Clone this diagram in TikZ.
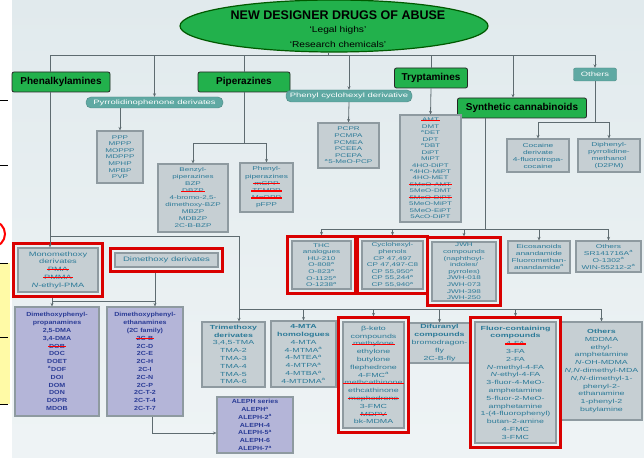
\documentclass[tikz,border=0pt]{standalone}
\usepackage{fontspec}
\setmainfont{Liberation Sans}
\newfontfamily\widefont{Liberation Sans}[FakeStretch=1.5]
\newfontfamily\semifont{Liberation Sans}[FakeStretch=1.2]
\usetikzlibrary{arrows.meta,fit,shapes.geometric}

\definecolor{grpgreen}{HTML}{22B14C}
\definecolor{pillteal}{HTML}{5FA9A3}
\definecolor{boxgray}{HTML}{C6CFD3}
\definecolor{boxedge}{HTML}{8E9AA0}
\definecolor{boxtext}{HTML}{2C7A98}
\definecolor{lavfill}{HTML}{B4B5D8}
\definecolor{lavtext}{HTML}{2B3C96}
\definecolor{bgblue}{HTML}{E1EAED}
\definecolor{linegray}{HTML}{5E6B70}

\newcommand{\redline}[1]{\sbox0{#1}\usebox0\llap{\textcolor{red}{\rule[0.35ex]{\dimexpr\wd0+2pt\relax}{1.3pt}}\kern-1pt}}
\newcommand{\sa}{\textsuperscript{a}}

\tikzset{
  grp/.style={draw=black!85, fill=grpgreen, rounded corners=2pt, line width=0.8pt,
    font=\fontsize{10}{11}\selectfont\bfseries, inner sep=1pt},
  pill/.style={draw=pillteal!80!black, fill=pillteal, rounded corners=5pt, text=white,
    font=\widefont\fontsize{6.3}{7}\selectfont, inner sep=0.5pt},
  lst/.style={draw=boxedge, fill=boxgray, line width=1.1pt, text=boxtext, align=center,
    inner sep=1pt, font=\widefont\fontsize{5.4}{6.6}\selectfont},
  roomy/.style={font=\widefont\fontsize{5.9}{7.8}\selectfont},
  lav/.style={lst, fill=lavfill, text=lavtext, font=\semifont\fontsize{5.9}{7.8}\selectfont\bfseries},
  hl/.style={draw=red!85!black, line width=2.2pt, inner sep=4pt},
  conn/.style={draw=linegray, line width=0.8pt},
  arr/.style={conn, -{Stealth[length=3.5pt,width=3pt]}}
}

\begin{document}
\begin{tikzpicture}[x=1pt, y=-1pt]
    \useasboundingbox (0,0) rectangle (644,457);

    % Background and margin marks
    \fill[white] (0,0) rectangle (644,457);
    \shade[top color=bgblue, bottom color=bgblue!55!white] (12,0) rectangle (644,457);
    \fill[yellow!35] (0,263) rectangle (10,404);
    \foreach \y in {100,165,263,337,404} \draw[line width=0.6pt] (0,\y) -- (8,\y);
    \draw[red, line width=2pt] (-8,234) circle (13);

    % Title
    \node[ellipse, draw=green!35!black, fill=grpgreen, line width=1.2pt,
          minimum width=308, minimum height=52] (title) at (334,26) {};
    \node[align=center, inner sep=0] (titletext) at (338,29)
        {{\fontsize{12.5}{13}\selectfont\bfseries NEW DESIGNER DRUGS OF ABUSE}\\[1.5pt]
         {\semifont\fontsize{8.5}{9}\selectfont ‘Legal highs’}\\[3pt]
         {\semifont\fontsize{8.5}{9}\selectfont ‘Research chemicals’}};

    % Main groups
    \node[grp, minimum width=98, minimum height=20] (phen) at (61,82) {Phenalkylamines};
    \node[grp, minimum width=92, minimum height=20] (pip) at (244,82) {Piperazines};
    \node[grp, minimum width=73, minimum height=20] (tryp) at (431,78) {Tryptamines};
    \node[grp, minimum width=129, minimum height=20] (synth) at (522,108) {Synthetic cannabinoids};
    \node[pill, minimum width=43, minimum height=13, rounded corners=2pt] (oth) at (595,74.5) {Others};
    \node[pill, minimum width=137, minimum height=11] (pyrr) at (154.5,102.5) {Pyrrolidinophenone derivates};
    \node[pill, minimum width=126, minimum height=12] (pcp) at (349,96) {Phenyl cyclohexyl derivative};

    % Upper lists
    \node[lst, minimum width=46, minimum height=52] (ppp) at (120,157)
        {PPP\\MPPP\\MOPPP\\MDPPP\\MPHP\\MPBP\\PVP};
    \node[lst, minimum width=70, minimum height=68, font=\widefont\fontsize{5.4}{7}\selectfont] (bzp) at (193,198)
        {Benzyl-\\piperazines\\BZP\\\redline{DBZP}\\4-bromo-2,5-\\dimethoxy-BZP\\MBZP\\MDBZP\\2C-B-BZP};
    \node[lst, minimum width=53, minimum height=49, font=\widefont\fontsize{5.6}{7.2}\selectfont] (phpip) at (266.5,187.5)
        {Phenyl-\\piperazines\\\redline{mCPP}\\\redline{TFMPP}\\\redline{MeOPP}\\pFPP};
    \node[lst, minimum width=61, minimum height=45] (pcpl) at (348.5,145.5)
        {PCPR\\PCMPA\\PCMEA\\PCEEA\\PCEPA\\\sa 5-MeO-PCP};
    \node[lst, minimum width=61, minimum height=107, font=\widefont\fontsize{5.3}{6.45}\selectfont] (trypl) at (430.5,168.5)
        {\redline{AMT}\\DMT\\\sa DET\\DPT\\\sa DBT\\DiPT\\MiPT\\4HO-DiPT\\\sa 4HO-MiPT\\4HO-MET\\
         \redline{5MeO-AMT}\\5MeO-DMT\\\redline{5MeO-DiPT}\\5MeO-MiPT\\5MeO-EiPT\\5AcO-DiPT};
    \node[lst, minimum width=62, minimum height=33, font=\widefont\fontsize{5.6}{7}\selectfont] (coc) at (538,155.5)
        {Cocaine\\derivate\\4-fluorotropa-\\cocaine};
    \node[lst, minimum width=62, minimum height=33, font=\widefont\fontsize{5.6}{7}\selectfont] (d2pm) at (609,155.5)
        {Diphenyl-\\pyrrolidine-\\methanol\\(D2PM)};

    % Cannabinoid row
    \node[lst, minimum width=59, minimum height=48] (thc) at (321.5,265)
        {THC\\analogues\\HU-210\\O-808\sa\\O-823\sa\\O-1125\sa\\O-1238\sa};
    \node[lst, minimum width=61, minimum height=48] (cyc) at (392.5,265)
        {Cyclohexyl-\\phenols\\CP 47,497\\CP 47,497-C8\\CP 55,950\sa\\CP 55,244\sa\\CP 55,940\sa};
    \node[lst, minimum width=64, minimum height=59] (jwh) at (464,271.5)
        {JWH\\compounds\\(naphthoyl-\\indoles/\\pyrroles)\\JWH-018\\JWH-073\\JWH-398\\JWH-250};
    \node[lst, minimum width=62, minimum height=32, font=\widefont\fontsize{5.6}{7}\selectfont] (eico) at (539,257)
        {Eicosanoids\\anandamide\\Fluoromethan-\\anandamide\sa};
    \node[lst, minimum width=65, minimum height=31, font=\widefont\fontsize{5.6}{7}\selectfont] (oth2) at (608.5,256.5)
        {Others\\SR141716A\sa\\O-1302\sa\\WIN-55212-2\sa};

    % Phenalkylamine boxes
    \node[lst, minimum width=80, minimum height=44, font=\widefont\fontsize{6.2}{7.8}\selectfont] (mono) at (58,270)
        {Monomethoxy\\derivates\\\redline{PMA}\\\redline{PMMA}\\\textit{N}-ethyl-PMA};
    \node[lst, minimum width=103, minimum height=14, font=\widefont\fontsize{6.4}{7}\selectfont] (dimeth) at (166.5,260)
        {Dimethoxy derivates};
    \node[lav, minimum width=84, minimum height=109] (dmpa) at (57,361.5)
        {Dimethoxyphenyl-\\propanamines\\2,5-DMA\\3,4-DMA\\\redline{DOB}\\DOC\\DOET\\\sa DOF\\DOI\\DOM\\DON\\DOPR\\MDOB};
    \node[lav, minimum width=76, minimum height=109] (dmea) at (145,361.5)
        {Dimethoxyphenyl-\\ethanamines\\(2C family)\\\redline{2C-B}\\2C-D\\2C-E\\2C-H\\2C-I\\2C-N\\2C-P\\2C-T-2\\2C-T-4\\2C-T-7};
    \node[lav, minimum width=76, minimum height=56] (aleph) at (255,425)
        {ALEPH series\\ALEPH\sa\\ALEPH-2\sa\\ALEPH-4\\ALEPH-5\sa\\ALEPH-6\\ALEPH-7\sa};
    \node[lst, roomy, minimum width=63, minimum height=65] (trim) at (233.5,354.5)
        {\textbf{Trimethoxy}\\\textbf{derivates}\\3,4,5-TMA\\TMA-2\\TMA-3\\TMA-4\\TMA-5\\TMA-6};
    \node[lst, roomy, minimum width=65, minimum height=66] (mta) at (303.5,354)
        {\textbf{4-MTA}\\\textbf{homologues}\\4-MTA\\4-MTMA\sa\\4-MTEA\sa\\4-MTPA\sa\\4-MTBA\sa\\4-MTDMA\sa};
    \node[lst, roomy, minimum width=61, minimum height=106] (bk) at (373.5,375)
        {β-keto\\compounds\\\redline{methylone}\\ethylone\\butylone\\flephedrone\\4-FMC\sa\\\redline{methcathinone}\\
         ethcathinone\\\redline{mephedrone}\\3-FMC\\\redline{MDPV}\\bk-MDMA};
    \node[lst, roomy, minimum width=61, minimum height=40] (difur) at (439.5,343)
        {\textbf{Difuranyl}\\\textbf{compounds}\\bromodragon-\\fly\\2C-B-fly};
    \node[lst, roomy, minimum width=81, minimum height=121] (fluor) at (515.5,382.5)
        {\textbf{Fluor-containing}\\\textbf{compounds}\\\redline{4-FA}\\3-FA\\2-FA\\\textit{N}-methyl-4-FA\\\textit{N}-ethyl-4-FA\\
         3-fluor-4-MeO-\\amphetamine\\5-fluor-2-MeO-\\amphetamine\\1-(4-fluorophenyl)\\butan-2-amine\\4-FMC\\3-FMC};
    \node[lst, roomy, minimum width=81, minimum height=98] (oth3) at (601.5,371)
        {\textbf{Others}\\MDDMA\\ethyl-\\amphetamine\\\textit{N}-OH-MDMA\\\textit{N,N}-dimethyl-MDA\\
         \textit{N,N}-dimethyl-1-\\phenyl-2-\\ethanamine\\1-phenyl-2\\butylamine};

    % Red frames
    \foreach \n in {thc,cyc,jwh,mono,dimeth,bk,fluor}
        \node[hl, fit=(\n)] (\n hl) {};

    % Trunk from the title
    \coordinate (trunk) at (328,55);
    \draw[conn] (title.south -| trunk) -- (trunk);
    \draw[conn] (trunk) -| ([xshift=-11pt]phen.north);
    \draw[arr] (trunk) -| (pyrr.north);
    \draw[conn] (trunk) -| (pip.north);
    \draw[arr] (trunk) -| (pcp.north);
    \draw[conn] (trunk) -| (tryp.north);
    \draw[arr] (trunk) -| ([xshift=-9pt]synth.north);
    \draw[arr] (trunk) -| (oth.north);

    % Upper branches
    \draw[arr] (pyrr.south -| ppp.north) -- (ppp.north);
    \draw[arr] (pcp.south) -- (pcpl.north);
    \draw[arr] (tryp.south) -- (trypl.north);
    \coordinate (pipbus) at (244,143);
    \draw[conn] (pip.south) -- (pipbus);
    \foreach \n in {bzp,phpip} \draw[arr] (pipbus) -| (\n.north);
    \coordinate (othbus) at (595,122);
    \draw[conn] (oth.south) -- (othbus);
    \foreach \n in {coc,d2pm} \draw[arr] (othbus) -| (\n.north);

    % Cannabinoids
    \coordinate (canbus) at (485,229);
    \draw[conn] (synth.south -| canbus) -- (canbus);
    \foreach \n in {thchl,cychl,jwhhl,eico,oth2} \draw[arr] (canbus) -| (\n.north);

    % Phenalkylamines
    \coordinate (phenbus) at (50,236);
    \coordinate (lowbus) at (239,309);
    \draw[conn] ([xshift=-11pt]phen.south) -- (phenbus) -| (lowbus);
    \draw[arr] (phenbus) -- (phenbus |- mono.north);
    \draw[arr] (lowbus) -- (lowbus |- trim.north);
    \foreach \n in {mta,bkhl,difur,fluorhl,oth3} \draw[arr] (lowbus) -| (\n.north);
    \coordinate (mbus) at (52,301);
    \coordinate (dbus) at (155,301);
    \draw[conn] (monohl.south -| mbus) -- (mbus) -- (dbus);
    \draw[conn] (dimethhl.south -| dbus) -- (dbus);
    \draw[arr] (mbus) -- (mbus |- dmpa.north);
    \draw[arr] (dbus) -- (dbus |- dmea.north);
    \coordinate (alturn) at (152,433);
    \draw[arr] (dmea.south -| alturn) -- (alturn) -- (alturn -| aleph.west);
\end{tikzpicture}
\end{document}
